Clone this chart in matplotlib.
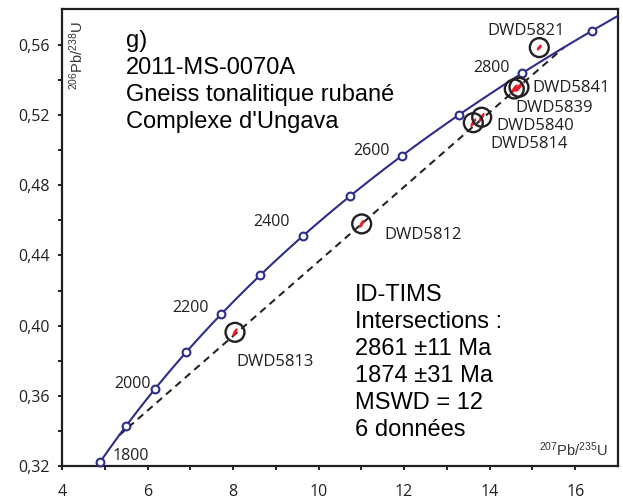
import numpy as np
import matplotlib
matplotlib.use('Agg')
import matplotlib.pyplot as plt
from matplotlib.patches import Ellipse
import matplotlib.transforms as mtransforms

# ---------------- data ----------------
LAMBDA_238 = 1.55125e-10   # decay constants (1/yr)
LAMBDA_235 = 9.8485e-10
marker_ages = [1800, 1900, 2000, 2100, 2200, 2300, 2400, 2500, 2600, 2700, 2800, 2900]
labelled_ages = [1800, 2000, 2200, 2400, 2600, 2800]
curve_ages_start = 1800
curve_ages_end = 2950
lower_intercept = 1874
upper_intercept = 2861

sample_names = ['DWD5813', 'DWD5812', 'DWD5814', 'DWD5840', 'DWD5839', 'DWD5841', 'DWD5821']
pb207_u235 = [8.045, 11.007, 13.617, 13.813, 14.575, 14.685, 15.160]
pb206_u238 = [0.3962, 0.4580, 0.5157, 0.5188, 0.5349, 0.5359, 0.5585]

x_ticks = [4, 6, 8, 10, 12, 14, 16]
y_ticks = [0.32, 0.36, 0.40, 0.44, 0.48, 0.52, 0.56]
y_tick_labels = ['0,32', '0,36', '0,40', '0,44', '0,48', '0,52', '0,56']

title_text = "g)\n2011-MS-0070A\nGneiss tonalitique rubané\nComplexe d'Ungava"
result_text = "ID-TIMS\nIntersections :\n2861 ±11 Ma\n1874 ±31 Ma\nMSWD = 12\n6 données"

# ---------------- styles / layout ----------------
NAVY = '#2d2c8a'
RED = '#ec1c24'
BLACK = '#231f20'
LABEL_FONT = 'Open Sans'
MAIN_FONT = 'Liberation Sans'

age_label_offsets = {  # (dx, dy) points, ha
    1800: (9.2, 4.9, 'left'),
    2000: (-2.9, 4.0, 'right'),
    2200: (-9.0, 4.0, 'right'),
    2400: (-9.2, 9.8, 'right'),
    2600: (-8.5, 3.6, 'right'),
    2800: (-9.3, 3.8, 'right'),
}
sample_label_offsets = [  # (dx, dy) points, ha
    (0.7, -21.2, 'left'),
    (16.0, -7.9, 'left'),
    (12.0, -15.3, 'left'),
    (10.3, -6.3, 'left'),
    (0.5, -13.9, 'left'),
    (9.9, -0.7, 'left'),
    (-9.5, 12.2, 'center'),
]
ellipse_len_px = [9, 9, 10, 10, 11, 11, 7]
ellipse_wid_px = [3.2, 3.2, 3.2, 3.2, 3.4, 3.4, 3.2]
ellipse_angle = [62, 60, 58, 58, 55, 55, 52]

plt.rcParams['mathtext.fontset'] = 'custom'
plt.rcParams['mathtext.rm'] = MAIN_FONT
plt.rcParams['mathtext.it'] = MAIN_FONT + ':italic'
plt.rcParams['mathtext.bf'] = MAIN_FONT + ':bold'


def concordia(age_ma):
    t = np.asarray(age_ma, dtype=float) * 1e6
    return np.exp(LAMBDA_235 * t) - 1.0, np.exp(LAMBDA_238 * t) - 1.0


DPI = 100
fig = plt.figure(figsize=(6.23, 4.99), dpi=DPI)
ax = fig.add_axes([62 / 623, 1 - 466 / 499, (618 - 62) / 623, (466 - 9) / 499])
ax.set_xlim(4, 17)
ax.set_ylim(0.32, 0.5805)

# concordia curve
ages_curve = np.arange(curve_ages_start, curve_ages_end + 1, 2)
cx, cy = concordia(ages_curve)
ax.plot(cx, cy, color=NAVY, lw=1.5, zorder=3, solid_capstyle='butt')
mx, my = concordia(marker_ages)
ax.plot(mx, my, 'o', ms=5.6, mfc='white', mec=NAVY, mew=1.5, zorder=4, clip_on=False)

# age labels
for age in labelled_ages:
    ax_, ay_ = concordia(age)
    dx, dy, ha = age_label_offsets[age]
    ax.annotate(str(age), (ax_, ay_), xytext=(dx, dy), textcoords='offset points',
                ha=ha, va='center', fontsize=11.5, family=LABEL_FONT, color=BLACK, zorder=6)

# discordia
dx_, dy_ = concordia([lower_intercept, upper_intercept])
line, = ax.plot(dx_, dy_, color=BLACK, lw=1.45, zorder=2)
line.set_dashes((3.6, 2.6))

# data points: red error ellipses + black circles
for i, (x, y) in enumerate(zip(pb207_u235, pb206_u238)):
    trans = fig.dpi_scale_trans + mtransforms.ScaledTranslation(x, y, ax.transData)
    e = Ellipse((0, 0), ellipse_len_px[i] / DPI, ellipse_wid_px[i] / DPI,
                angle=ellipse_angle[i], transform=trans, facecolor=RED,
                edgecolor='none', zorder=5)
    ax.add_patch(e)
ax.scatter(pb207_u235, pb206_u238, s=185, facecolors='none', edgecolors=BLACK,
           linewidths=1.7, zorder=5)

for i, name in enumerate(sample_names):
    dx, dy, ha = sample_label_offsets[i]
    ax.annotate(name, (pb207_u235[i], pb206_u238[i]), xytext=(dx, dy),
                textcoords='offset points', ha=ha, va='center', fontsize=12,
                family=LABEL_FONT, color=BLACK, zorder=6)

# text blocks
ax.text(0.115, 0.953, title_text, transform=ax.transAxes, ha='left', va='top',
        fontsize=17, family=MAIN_FONT, color='black', linespacing=1.28)
ax.text(0.527, 0.398, result_text, transform=ax.transAxes, ha='left', va='top',
        fontsize=17, family=MAIN_FONT, color='black', linespacing=1.29)

# axis labels inside the frame
ax.text(0.027, 0.972, r'$^{206}$Pb/$^{238}$U', transform=ax.transAxes, rotation=90,
        ha='center', va='top', fontsize=10.5, family=MAIN_FONT, color='#333333')
ax.text(0.982, 0.035, r'$^{207}$Pb/$^{235}$U', transform=ax.transAxes,
        ha='right', va='center', fontsize=10.5, family=MAIN_FONT, color='#333333')

# ticks & spines
ax.set_xticks(x_ticks)
ax.set_xticklabels([str(v) for v in x_ticks])
ax.set_xticks(np.arange(5, 17, 2), minor=True)
ax.set_yticks(y_ticks)
ax.set_yticklabels(y_tick_labels)
ax.set_yticks(np.arange(0.34, 0.58, 0.04), minor=True)
for which in ('major', 'minor'):
    ax.tick_params(axis='both', which=which, direction='out', length=3.1, width=1.4,
                   color=BLACK, top=False, right=False)
ax.tick_params(axis='x', which='major', pad=10, labelsize=11.5, labelcolor=BLACK)
ax.tick_params(axis='y', which='major', pad=5.5, labelsize=11.5, labelcolor=BLACK)
for lab in ax.get_xticklabels() + ax.get_yticklabels():
    lab.set_family(LABEL_FONT)
for sp in ax.spines.values():
    sp.set_linewidth(1.6)
    sp.set_color(BLACK)

fig.savefig('out.png', dpi=DPI)
